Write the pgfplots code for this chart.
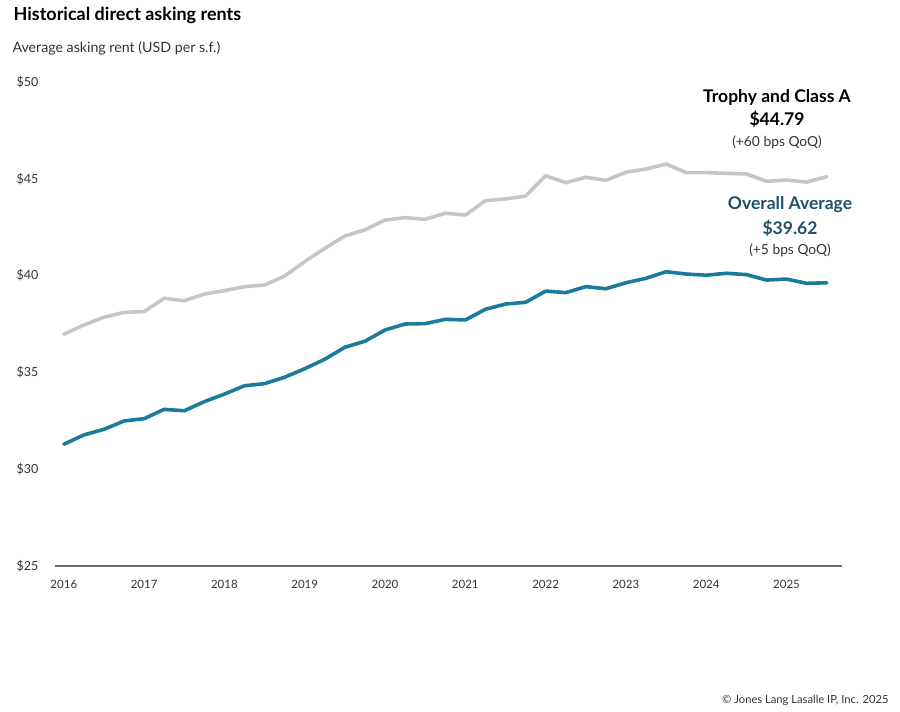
\documentclass[border=0pt]{standalone}
\usepackage{pgfplots}
\pgfplotsset{compat=1.18}
\usepackage{fontspec}
\setmainfont{Lato}

\definecolor{overallblue}{HTML}{1B7B9B}
\definecolor{trophygray}{HTML}{C3C8C6}
\definecolor{axisgray}{HTML}{69716F}
\definecolor{tealtext}{HTML}{1E5068}
\definecolor{labelgray}{HTML}{333333}

% quarterly values, 2016 Q1 .. 2025 Q3
\pgfplotstableread{
x       trophy  overall
2016.00 36.97   31.29
2016.25 37.45   31.77
2016.50 37.85   32.06
2016.75 38.10   32.49
2017.00 38.14   32.61
2017.25 38.83   33.09
2017.50 38.70   33.02
2017.75 39.05   33.49
2018.00 39.22   33.88
2018.25 39.43   34.31
2018.50 39.51   34.42
2018.75 39.98   34.75
2019.00 40.72   35.19
2019.25 41.41   35.68
2019.50 42.05   36.30
2019.75 42.36   36.61
2020.00 42.87   37.19
2020.25 42.99   37.50
2020.50 42.91   37.52
2020.75 43.22   37.74
2021.00 43.13   37.71
2021.25 43.87   38.26
2021.50 43.96   38.53
2021.75 44.11   38.62
2022.00 45.16   39.20
2022.25 44.80   39.12
2022.50 45.08   39.43
2022.75 44.92   39.32
2023.00 45.34   39.63
2023.25 45.51   39.86
2023.50 45.76   40.20
2023.75 45.32   40.08
2024.00 45.32   40.02
2024.25 45.28   40.12
2024.50 45.25   40.05
2024.75 44.87   39.77
2025.00 44.94   39.82
2025.25 44.83   39.60
2025.50 45.11   39.63
}\rents

\begin{document}
\begin{tikzpicture}
\path (0pt,0pt) rectangle (900pt,712pt);
\begin{axis}[
    at={(55pt,146pt)}, anchor=south west,
    width=787pt, height=484pt, scale only axis,
    xmin=2015.89, xmax=2025.69,
    ymin=25, ymax=50,
    axis x line=bottom, axis y line=left,
    axis line style={-},
    x axis line style={draw=axisgray, line width=2.2pt},
    y axis line style={draw=none},
    tick style={draw=none},
    xtick={2016,2017,...,2025},
    xticklabels={2016,2017,2018,2019,2020,2021,2022,2023,2024,2025},
    ytick={25,30,...,50},
    yticklabels={\$25,\$30,\$35,\$40,\$45,\$50},
    xticklabel style={font=\fontsize{11.5}{13}\selectfont, text=labelgray, yshift=-9pt},
    yticklabel style={font=\fontsize{12.5}{14}\selectfont, text=labelgray, anchor=east, xshift=-11pt},
    clip=false,
  ]
\addplot[trophygray, line width=3.6pt, line join=round, line cap=round] table[x=x, y=trophy] {\rents};
\addplot[overallblue, line width=3.6pt, line join=round, line cap=round] table[x=x, y=overall] {\rents};
\end{axis}

\node[anchor=west, font=\bfseries\fontsize{18}{21}\selectfont, text=black] at (10pt,697pt) {Historical direct asking rents};
\node[anchor=west, font=\fontsize{14.2}{17}\selectfont, text=labelgray] at (9pt,664pt) {Average asking rent (USD per s.f.)};

\node[font=\bfseries\fontsize{17.5}{20}\selectfont, text=black] at (777pt,615pt) {Trophy and Class A};
\node[font=\bfseries\fontsize{17.5}{20}\selectfont, text=black] at (777pt,593pt) {\$44.79};
\node[font=\fontsize{13.8}{16}\selectfont, text=labelgray] at (777pt,570pt) {(+60 bps QoQ)};

\node[font=\bfseries\fontsize{17.5}{20}\selectfont, text=tealtext] at (790pt,507pt) {Overall Average};
\node[font=\bfseries\fontsize{17.5}{20}\selectfont, text=tealtext] at (790pt,484pt) {\$39.62};
\node[font=\fontsize{13.8}{16}\selectfont, text=labelgray] at (790pt,462pt) {(+5 bps QoQ)};

\node[anchor=east, font=\fontsize{11.2}{13}\selectfont, text=labelgray] at (892pt,12pt) {© Jones Lang Lasalle IP, Inc. 2025};
\end{tikzpicture}
\end{document}
